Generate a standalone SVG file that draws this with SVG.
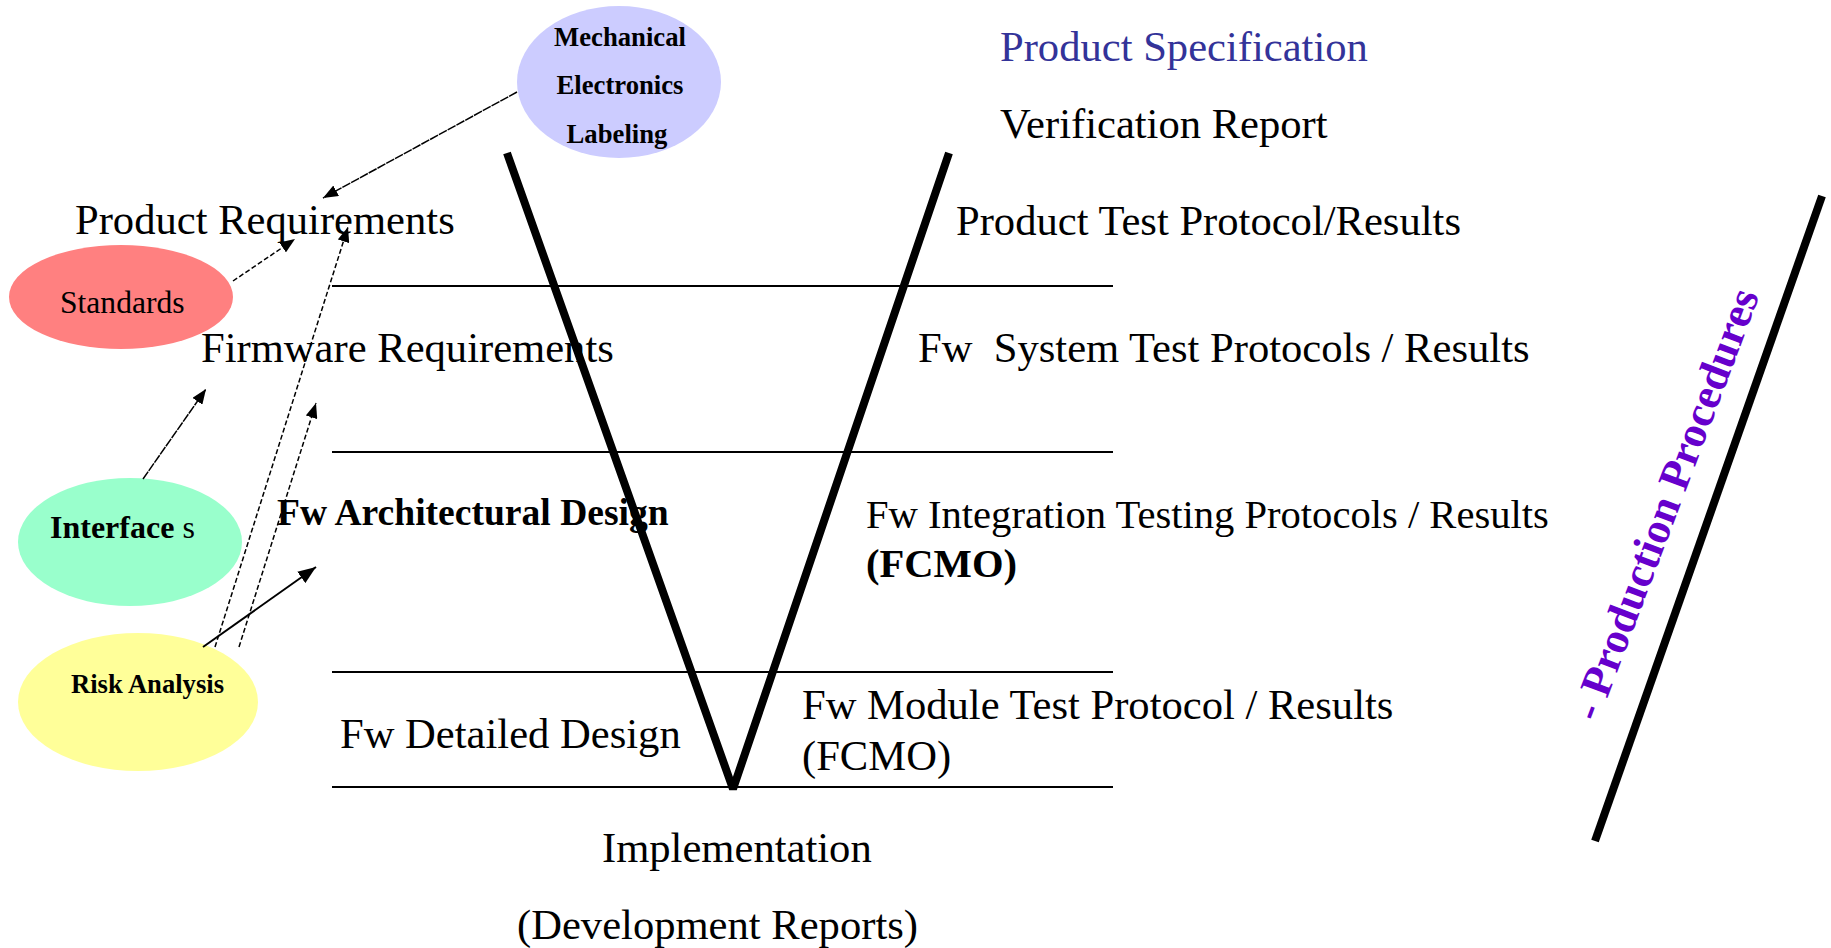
<svg xmlns="http://www.w3.org/2000/svg" width="1831" height="948" viewBox="0 0 1831 948">
  <style>
    text { font-family: "Liberation Serif", "Times New Roman", serif; fill: #000; }
    .t42 { font-size: 42.6px; }
    .t40 { font-size: 40.6px; }
    .b { font-weight: bold; }
    .blue { fill: #333399; }
    .purple { fill: #6600CC; }
    .rule { stroke: #000; stroke-width: 2; }
    .thick { stroke: #000; stroke-width: 8; fill: none; stroke-linecap: butt; }
    .link { stroke: #000; stroke-width: 1.5; fill: none; }
    .dash { stroke-dasharray: 5 2.5; }
    .fine { stroke-dasharray: 9 1; }
    .solid { stroke-width: 2; }
    .bubble text { text-anchor: middle; }
  </style>
  <defs>
    <marker id="head" markerUnits="userSpaceOnUse" markerWidth="16" markerHeight="12" refX="15" refY="6" orient="auto">
      <path d="M0,0 L15,6 L0,12 Z" fill="#000" stroke="none"/>
    </marker>
    <marker id="headBig" markerUnits="userSpaceOnUse" markerWidth="19" markerHeight="14" refX="18" refY="7" orient="auto">
      <path d="M0,0 L18,7 L0,14 Z" fill="#000" stroke="none"/>
    </marker>
  </defs>

  <!-- phase separators -->
  <g id="rules">
    <line class="rule" x1="332" y1="286" x2="1113" y2="286"/>
    <line class="rule" x1="332" y1="452" x2="1113" y2="452"/>
    <line class="rule" x1="332" y1="672" x2="1113" y2="672"/>
    <line class="rule" x1="332" y1="787" x2="1113" y2="787"/>
  </g>

  <!-- the V and the production bar -->
  <g id="v-shape">
    <polyline class="thick" stroke-linejoin="bevel" points="507,153 733,789 949,153"/>
  </g>
  <g id="production-bar">
    <line class="thick" x1="1822" y1="196" x2="1595" y2="841"/>
    <text class="b purple" font-size="44" transform="translate(1598 723) rotate(-69.3)">- Production Procedures</text>
  </g>

  <!-- input bubbles -->
  <g id="mechanical" class="bubble">
    <ellipse cx="619" cy="82" rx="102" ry="76" fill="#CCCCFF"/>
    <text class="b" font-size="26.7" x="620" y="46">Mechanical</text>
    <text class="b" font-size="26.7" x="620" y="94">Electronics</text>
    <text class="b" font-size="26.7" x="617" y="143">Labeling</text>
  </g>
  <g id="standards">
    <ellipse cx="121" cy="297" rx="112" ry="52" fill="#FF8080"/>
    <text font-size="31.6" x="60" y="313">Standards</text>
  </g>
  <g id="interfaces">
    <ellipse cx="130" cy="542" rx="112" ry="64" fill="#99FFCC"/>
    <text font-size="32" x="50" y="538"><tspan font-weight="bold">Interface</tspan> s</text>
  </g>
  <g id="risk-analysis">
    <ellipse cx="138" cy="702" rx="120" ry="69" fill="#FFFF99"/>
    <text class="b" font-size="26.6" x="71" y="693">Risk Analysis</text>
  </g>

  <!-- left side: specification phases -->
  <g id="product-requirements"><text class="t42" x="75" y="234">Product Requirements</text></g>
  <g id="firmware-requirements"><text class="t42" x="201" y="362">Firmware Requirements</text></g>
  <g id="fw-architectural-design"><text class="b" font-size="37.6" x="277" y="525">Fw Architectural Design</text></g>
  <g id="fw-detailed-design"><text class="t42" x="340" y="748">Fw Detailed Design</text></g>
  <g id="implementation">
    <text class="t42" x="602" y="862">Implementation</text>
    <text class="t42" x="517" y="939">(Development Reports)</text>
  </g>

  <!-- right side: verification phases -->
  <g id="product-specification"><text class="t42 blue" x="1000" y="61">Product Specification</text></g>
  <g id="verification-report"><text class="t42" x="1000" y="138">Verification Report</text></g>
  <g id="product-test"><text class="t42" x="956" y="235">Product Test Protocol/Results</text></g>
  <g id="fw-system-test"><text class="t42" x="918" y="362" xml:space="preserve">Fw  System Test Protocols / Results</text></g>
  <g id="fw-integration-test">
    <text class="t40" x="866" y="528">Fw Integration Testing Protocols / Results</text>
    <text class="t40 b" x="866" y="577">(FCMO)</text>
  </g>
  <g id="fw-module-test">
    <text class="t42" x="802" y="719">Fw Module Test Protocol / Results</text>
    <text class="t42" x="802" y="770">(FCMO)</text>
  </g>

  <!-- connectors -->
  <g id="connectors">
    <line class="link fine" x1="517" y1="92" x2="323" y2="198" marker-end="url(#head)"/>
    <line class="link dash" x1="233" y1="281" x2="295" y2="239" marker-end="url(#head)"/>
    <line class="link dash" x1="215" y1="647" x2="348" y2="227" marker-end="url(#head)"/>
    <line class="link dash" x1="239" y1="647" x2="316" y2="403" marker-end="url(#head)"/>
    <line class="link fine" x1="143" y1="479" x2="206" y2="389" marker-end="url(#head)"/>
    <line class="link solid" x1="203" y1="647" x2="316" y2="567" marker-end="url(#headBig)"/>
  </g>
</svg>
